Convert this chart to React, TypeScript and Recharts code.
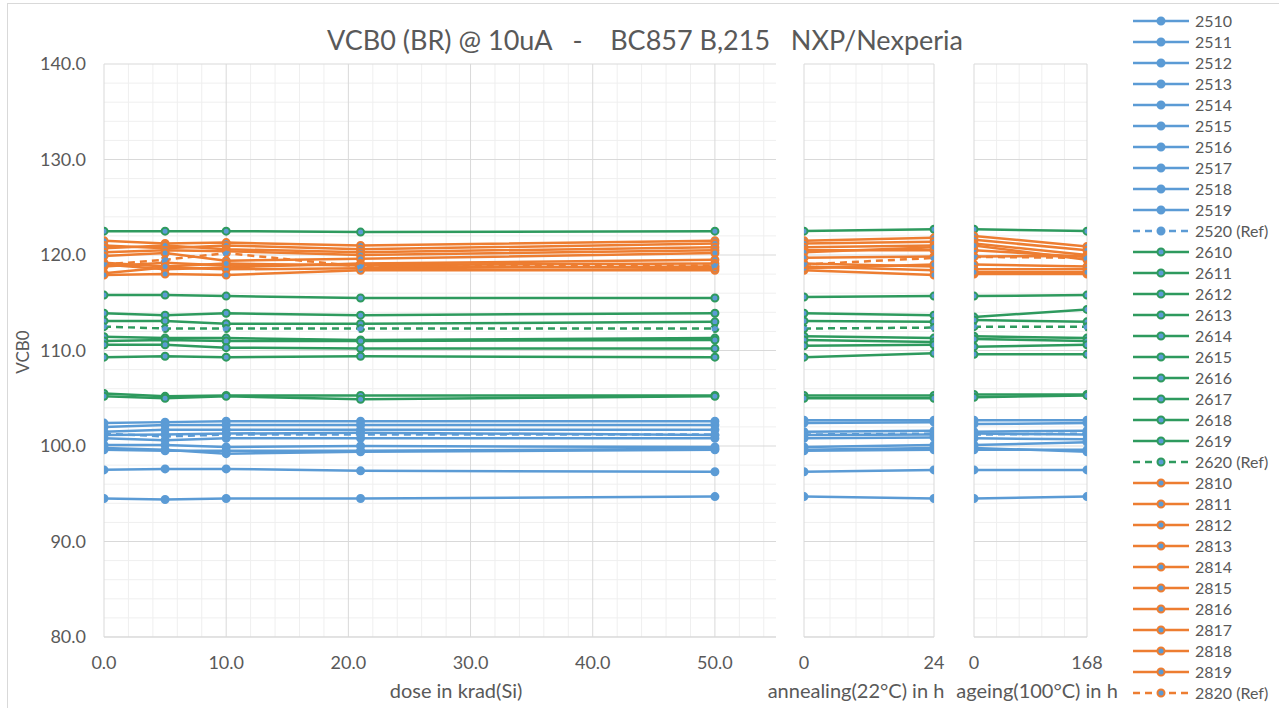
import React from "react";
import { LineChart, Line, XAxis, YAxis, ReferenceLine } from "recharts";

const doseX = [0, 5, 10, 21, 50];
const annealX = [0, 24];
const ageX = [0, 168];

const doseTicks = [0, 10, 20, 30, 40, 50];
const annealTicks = [0, 24];
const ageTicks = [0, 168];
const yTicks = [80, 90, 100, 110, 120, 130, 140];

// values per sample: 5 dose steps, annealing 0/24 h, ageing 0/168 h
const blueNames = ["2510", "2511", "2512", "2513", "2514", "2515", "2516", "2517", "2518", "2519", "2520 (Ref)"];
const blueValues = [
  [102.4, 102.5, 102.6, 102.6, 102.6, 102.7, 102.7, 102.7, 102.7],
  [102.0, 102.2, 102.2, 102.2, 102.2, 102.4, 102.5, 102.3, 102.4],
  [101.5, 101.7, 101.7, 101.7, 101.7, 101.5, 101.6, 101.5, 101.6],
  [101.15, 101.2, 101.3, 101.4, 101.15, 101.15, 101.2, 101.3, 101.2],
  [100.8, 100.6, 100.8, 100.8, 100.8, 100.8, 100.9, 100.8, 100.7],
  [100.1, 100.1, 99.9, 100.0, 99.9, 99.9, 100.1, 100.1, 100.4],
  [99.8, 99.6, 99.2, 99.4, 99.6, 99.6, 99.8, 99.8, 99.4],
  [99.6, 99.5, 99.5, 99.5, 99.7, 99.5, 99.6, 99.6, 99.6],
  [97.5, 97.6, 97.6, 97.4, 97.3, 97.3, 97.5, 97.5, 97.5],
  [94.5, 94.4, 94.5, 94.5, 94.7, 94.7, 94.5, 94.5, 94.7],
  [101.3, 101.0, 101.2, 101.2, 101.2, 101.2, 101.3, 101.2, 101.3],
];

const greenNames = ["2610", "2611", "2612", "2613", "2614", "2615", "2616", "2617", "2618", "2619", "2620 (Ref)"];
const greenValues = [
  [122.5, 122.5, 122.5, 122.4, 122.5, 122.5, 122.7, 122.7, 122.5],
  [115.8, 115.8, 115.7, 115.5, 115.5, 115.6, 115.7, 115.7, 115.8],
  [113.9, 113.7, 113.9, 113.7, 113.9, 113.9, 113.7, 113.5, 114.3],
  [113.1, 113.1, 112.8, 112.8, 113.0, 113.1, 113.0, 113.2, 113.0],
  [111.45, 111.3, 111.3, 111.1, 111.3, 111.5, 111.3, 111.5, 111.3],
  [111.0, 111.1, 111.0, 111.0, 111.1, 111.1, 110.9, 111.2, 111.0],
  [110.6, 110.6, 110.3, 110.2, 110.2, 110.5, 110.6, 110.4, 110.6],
  [109.3, 109.4, 109.3, 109.4, 109.3, 109.3, 109.7, 109.6, 109.6],
  [105.5, 105.2, 105.3, 105.3, 105.3, 105.3, 105.3, 105.4, 105.4],
  [105.2, 105.0, 105.2, 104.9, 105.2, 105.0, 105.0, 105.1, 105.3],
  [112.5, 112.3, 112.3, 112.3, 112.3, 112.3, 112.4, 112.5, 112.5],
];

const orangeNames = ["2810", "2811", "2812", "2813", "2814", "2815", "2816", "2817", "2818", "2819", "2820 (Ref)"];
const orangeValues = [
  [121.5, 121.2, 121.3, 121.0, 121.5, 121.5, 121.8, 122.0, 120.9],
  [121.0, 120.7, 121.0, 120.6, 121.2, 121.2, 121.4, 121.6, 120.5],
  [120.7, 121.0, 120.6, 120.3, 120.8, 120.8, 121.0, 121.2, 120.0],
  [120.3, 120.5, 120.4, 120.0, 120.5, 120.5, 120.5, 120.5, 119.8],
  [119.9, 120.2, 119.4, 119.6, 120.2, 120.3, 120.8, 121.0, 119.5],
  [119.0, 118.5, 118.7, 119.1, 119.5, 119.7, 119.85, 119.85, 119.9],
  [118.8, 119.2, 118.9, 119.0, 119.1, 119.1, 118.8, 119.0, 118.8],
  [118.1, 118.7, 118.5, 118.6, 118.8, 118.8, 118.4, 118.5, 118.5],
  [117.9, 118.0, 117.9, 118.4, 118.4, 118.4, 117.9, 118.0, 118.0],
  [119.2, 118.8, 119.1, 118.9, 118.6, 118.6, 119.0, 118.2, 118.2],
  [119.0, 119.5, 120.2, 118.8, 118.9, 119.0, 119.7, 119.8, 119.7],
];

const BLUE = "#5B9BD5";
const GREEN = "#2E9A5E";
const ORANGE = "#ED7D31";
const TEXT = "#595959";
const MAJOR = "#d9d9d9";
const MINOR = "#efefef";
const FONT = "Lato, 'Open Sans', sans-serif";

type Series = { key: string; name: string; color: string; dashed: boolean; values: number[] };

const series: Series[] = [
  ...blueNames.map((n, i) => ({ key: "b" + i, name: n, color: BLUE, dashed: i === 10, values: blueValues[i] })),
  ...greenNames.map((n, i) => ({ key: "g" + i, name: n, color: GREEN, dashed: i === 10, values: greenValues[i] })),
  ...orangeNames.map((n, i) => ({ key: "o" + i, name: n, color: ORANGE, dashed: i === 10, values: orangeValues[i] })),
];

function buildRows(xs: number[], offset: number) {
  return xs.map((x, i) => {
    const row: Record<string, number> = { x };
    series.forEach((s) => (row[s.key] = s.values[offset + i]));
    return row;
  });
}

const doseRows = buildRows(doseX, 0);
const annealRows = buildRows(annealX, 5);
const ageRows = buildRows(ageX, 7);

const minorY: number[] = [];
for (let v = 82; v < 140; v += 2) if (v % 10 !== 0) minorY.push(v);

type PanelProps = {
  left: number;
  width: number;
  margin: { top: number; right: number; bottom: number; left: number };
  rows: Record<string, number>[];
  domain: [number, number];
  ticks: number[];
  minorX: number[];
  majorX: number[];
  fmt: (v: number) => string;
  showY: boolean;
};

function Panel({ left, width, margin, rows, domain, ticks, minorX, majorX, fmt, showY }: PanelProps) {
  return (
    <div style={{ position: "absolute", left, top: 0 }}>
      <LineChart width={width} height={708} data={rows} margin={margin}>
        <XAxis
          dataKey="x"
          type="number"
          domain={domain}
          ticks={ticks}
          tickFormatter={fmt}
          axisLine={{ stroke: MAJOR }}
          tickLine={false}
          tickMargin={13}
          height={30}
          tick={{ fill: TEXT, fontSize: 18, fontFamily: FONT }}
          interval={0}
          allowDataOverflow
        />
        <YAxis
          type="number"
          domain={[80, 140]}
          ticks={yTicks}
          hide={!showY}
          width={60}
          tickFormatter={(v: number) => v.toFixed(1)}
          axisLine={{ stroke: MAJOR }}
          tickLine={false}
          tickMargin={12}
          tick={{ fill: TEXT, fontSize: 18, fontFamily: FONT }}
        />
        {minorY.map((v) => (
          <ReferenceLine key={"my" + v} y={v} stroke={MINOR} strokeWidth={1} />
        ))}
        {minorX.map((v) => (
          <ReferenceLine key={"mx" + v} x={v} stroke={MINOR} strokeWidth={1} />
        ))}
        {yTicks.map((v) => (
          <ReferenceLine key={"Y" + v} y={v} stroke={MAJOR} strokeWidth={1} />
        ))}
        {majorX.map((v) => (
          <ReferenceLine key={"X" + v} x={v} stroke={MAJOR} strokeWidth={1} />
        ))}
        {series.map((s) => (
          <Line
            key={s.key}
            dataKey={s.key}
            name={s.name}
            stroke={s.color}
            strokeWidth={2.5}
            strokeDasharray={s.dashed ? "7 5" : undefined}
            dot={{ r: 3.5, fill: BLUE, stroke: s.color, strokeWidth: 2 }}
            isAnimationActive={false}
          />
        ))}
      </LineChart>
    </div>
  );
}

function LegendBlock() {
  return (
    <div style={{ position: "absolute", left: 1130, top: 10 }}>
      {series.map((s) => (
        <div key={s.key} style={{ height: 21, display: "flex", alignItems: "center" }}>
          <svg width={62} height={12}>
            <line
              x1={3}
              x2={59}
              y1={6}
              y2={6}
              stroke={s.color}
              strokeWidth={2.5}
              strokeDasharray={s.dashed ? "7 5" : undefined}
            />
            <circle cx={31} cy={6} r={3.5} fill={BLUE} stroke={s.color} strokeWidth={2} />
          </svg>
          <span style={{ marginLeft: 3, fontSize: 16, color: TEXT, fontFamily: FONT, whiteSpace: "pre" }}>{s.name}</span>
        </div>
      ))}
    </div>
  );
}

const text = (extra: React.CSSProperties): React.CSSProperties => ({
  position: "absolute",
  color: TEXT,
  fontFamily: FONT,
  whiteSpace: "pre",
  ...extra,
});

export default function App() {
  return (
    <div style={{ position: "absolute", left: 0, top: 0, width: 1279, height: 708, background: "#fff", overflow: "hidden" }}>
      <div style={{ position: "absolute", left: 7, top: 3, width: 1300, height: 720, border: `1px solid ${MAJOR}` }} />
      <Panel
        left={0}
        width={790}
        margin={{ top: 64, right: 14, bottom: 41, left: 44 }}
        rows={doseRows}
        domain={[0, 55]}
        ticks={doseTicks}
        minorX={[2, 4, 6, 8, 12, 14, 16, 18, 22, 24, 26, 28, 32, 34, 36, 38, 42, 44, 46, 48, 52, 54]}
        majorX={[10, 20, 30, 40, 50]}
        fmt={(v) => v.toFixed(1)}
        showY
      />
      <Panel
        left={790}
        width={165}
        margin={{ top: 64, right: 21, bottom: 41, left: 14 }}
        rows={annealRows}
        domain={[0, 24]}
        ticks={annealTicks}
        minorX={[4.8, 9.6, 14.4, 19.2]}
        majorX={[0, 24]}
        fmt={(v) => String(v)}
        showY={false}
      />
      <Panel
        left={955}
        width={170}
        margin={{ top: 64, right: 38, bottom: 41, left: 19 }}
        rows={ageRows}
        domain={[0, 168]}
        ticks={ageTicks}
        minorX={[33.6, 67.2, 100.8, 134.4]}
        majorX={[0, 168]}
        fmt={(v) => String(v)}
        showY={false}
      />
      <div style={text({ left: 0, width: 1290, top: 23, textAlign: "center", fontSize: 27 })}>
        {"VCB0 (BR) @ 10uA   -    BC857 B,215   NXP/Nexperia"}
      </div>
      <div style={text({ left: 22, top: 352, fontSize: 17, transform: "translate(-50%, -50%) rotate(-90deg)" })}>VCB0</div>
      <div style={text({ left: 456, top: 690, fontSize: 20, transform: "translate(-50%, -50%)" })}>dose in krad(Si)</div>
      <div style={text({ left: 856, top: 690, fontSize: 20, transform: "translate(-50%, -50%)" })}>annealing(22°C) in h</div>
      <div style={text({ left: 1037, top: 690, fontSize: 20, transform: "translate(-50%, -50%)" })}>ageing(100°C) in h</div>
      <LegendBlock />
    </div>
  );
}
